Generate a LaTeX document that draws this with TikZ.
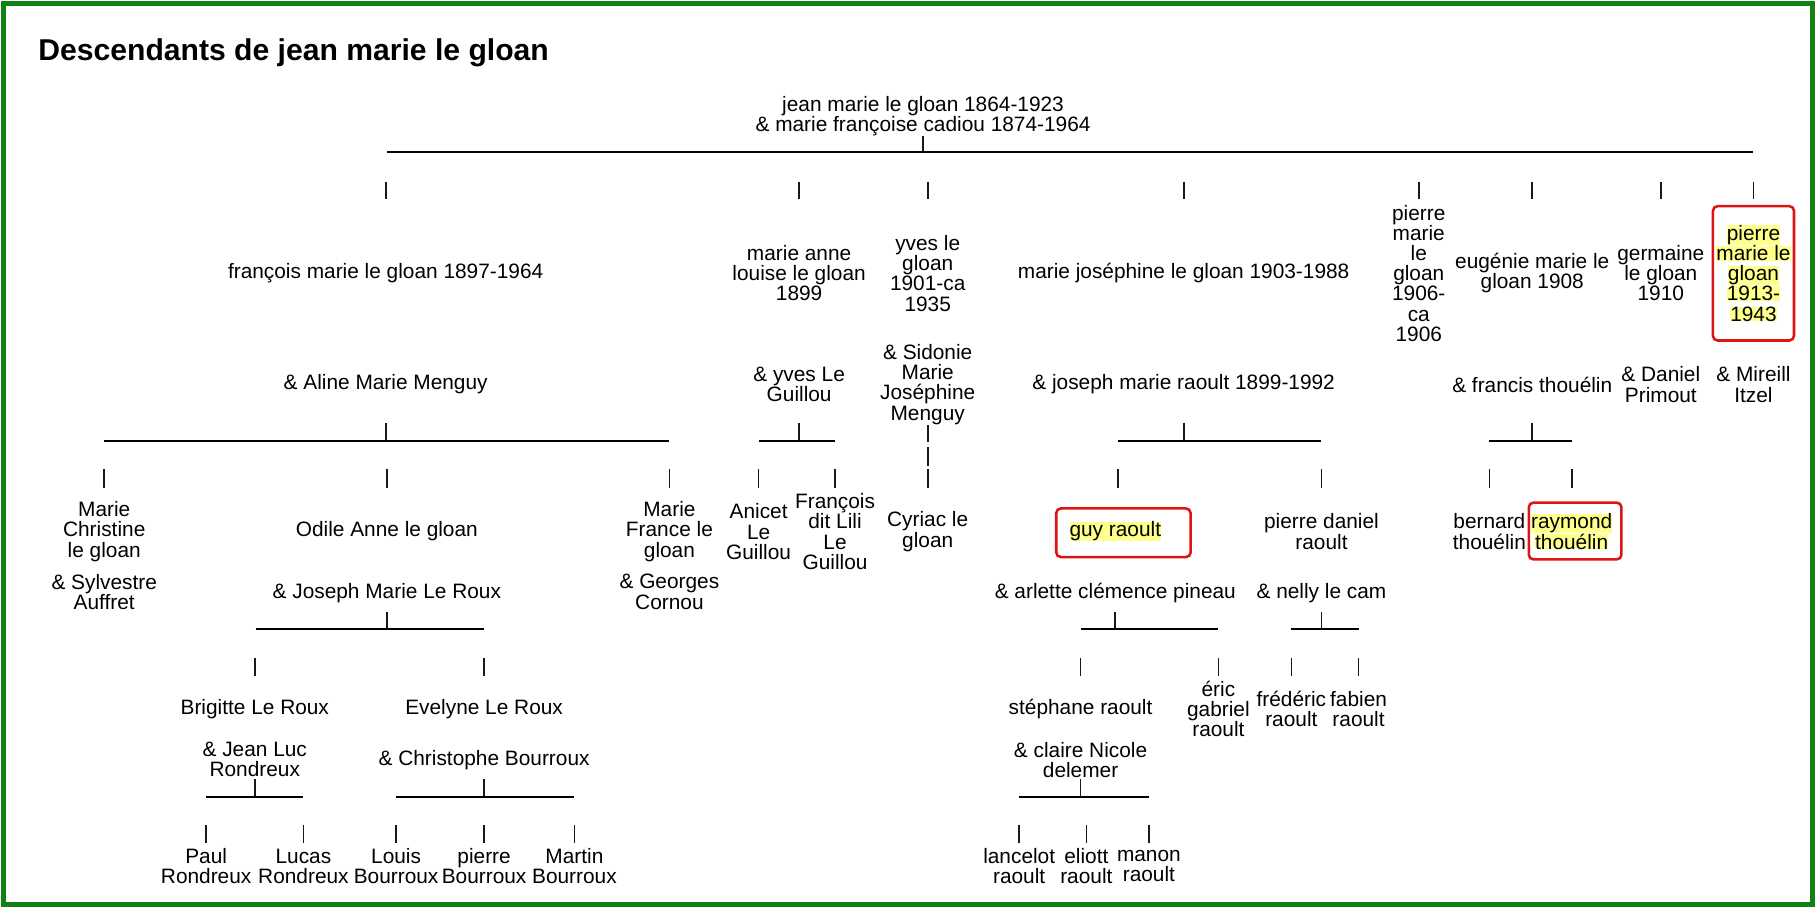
\documentclass[tikz,border=0pt]{standalone}
\usepackage{fontspec}
\setmainfont{Liberation Sans}
\definecolor{framegreen}{RGB}{18,128,18}
\definecolor{boxred}{RGB}{222,20,20}
\definecolor{hly}{RGB}{255,255,140}
\newcommand\fs{\fontsize{18}{17.4}\selectfont}
\newcommand\hlt[1]{{\setlength{\fboxsep}{0pt}\colorbox{hly}{#1}}}
\newcommand\tk[3]{\draw[tickline] (#1,#2) -- (#1,#3);}
\tikzset{
  person/.style={font=\fs, align=center, inner sep=0pt, yshift=-2pt},
  titletext/.style={font=\fontsize{26}{30}\selectfont\bfseries, inner sep=0pt},
  barline/.style={line width=1.9pt, black},
  tickline/.style={line width=1.5pt, black!90},
  redbox/.style={draw=boxred, line width=2.2pt, rounded corners=4pt}
}
\begin{document}
\begin{tikzpicture}[x=1pt,y=-1pt]
\useasboundingbox (0,0) rectangle (1568,784);
\draw[framegreen, line width=4pt] (3,3) rectangle (1565,781);

\node[titletext, anchor=base west] (title) at (33,52) {Descendants de jean marie le gloan};

% root
\node[person] (root) at (797,98) {jean marie le gloan 1864-1923\\\& marie françoise cadiou 1874-1964};
\tk{797}{117}{131}
\draw[barline] (334,131) -- (1514,131);
\foreach \x in {333,690,801,1022,1225,1323,1434,1514} {\tk{\x}{157}{172}}

% children
\node[person] (c1) at (333,234) {françois marie le gloan 1897-1964};
\node[person] (s1) at (333,330) {\& Aline Marie Menguy};
\tk{333}{365}{381}
\draw[barline] (90,381) -- (578,381);

\node[person] (c2) at (690,234) {marie anne\\louise le gloan\\1899};
\node[person] (s2) at (690,330) {\& yves Le\\Guillou};
\tk{690}{365}{381}
\draw[barline] (655,381) -- (721,381);

\node[person] (c3) at (801,234) {yves le\\gloan\\1901-ca\\1935};
\node[person] (s3) at (801,330) {\& Sidonie\\Marie\\Joséphine\\Menguy};
\tk{801}{367}{382}
\tk{801}{386}{402}

\node[person] (c4) at (1022,234) {marie joséphine le gloan 1903-1988};
\node[person] (s4) at (1022,330) {\& joseph marie raoult 1899-1992};
\tk{1022}{365}{381}
\draw[barline] (965,381) -- (1141,381);

\node[person] (c5) at (1225,234) {pierre\\marie\\le\\gloan\\1906-\\ca\\1906};

\node[person] (c6) at (1323,234) {eugénie marie le\\gloan 1908};
\node[person] (s6) at (1323,330) {\& francis thouélin};
\tk{1323}{365}{381}
\draw[barline] (1286,381) -- (1357,381);

\node[person] (c7) at (1434,234) {germaine\\le gloan\\1910};
\node[person] (s7) at (1434,330) {\& Daniel\\Primout};

\node[person] (c8) at (1514,234) {\hlt{pierre}\\\hlt{marie le}\\\hlt{gloan}\\\hlt{1913-}\\\hlt{1943}};
\draw[redbox] (1479,178) rectangle (1549,294);
\node[person] (s8) at (1514,330) {\& Mireill\\Itzel};

% grandchildren
\foreach \x in {90,334,578,655,721,801,965,1141,1286,1357} {\tk{\x}{405}{421}}

\node[person] (g1) at (90,457) {Marie\\Christine\\le gloan};
\node[person] (g1s) at (90,509) {\& Sylvestre\\Auffret};

\node[person] (g2) at (334,457) {Odile Anne le gloan};
\node[person] (g2s) at (334,510) {\& Joseph Marie Le Roux};
\tk{334}{528}{543}
\draw[barline] (221,543) -- (418,543);

\node[person] (g3) at (578,457) {Marie\\France le\\gloan};
\node[person] (g3s) at (578,509) {\& Georges\\Cornou};

\node[person] (g4) at (655,457) {Anicet\\Le\\Guillou};
\node[person] (g5) at (721,457) {François\\dit Lili\\Le\\Guillou};
\node[person] (g6) at (801,457) {Cyriac le\\gloan};

\node[person] (g7) at (963,457) {\hlt{guy raoult}};
\draw[redbox] (912,439) rectangle (1028,481);
\node[person] (g7s) at (963,510) {\& arlette clémence pineau};
\tk{963}{528}{543}
\draw[barline] (933,543) -- (1052,543);

\node[person] (g8) at (1141,457) {pierre daniel\\raoult};
\node[person] (g8s) at (1141,510) {\& nelly le cam};
\tk{1141}{528}{543}
\draw[barline] (1115,543) -- (1173,543);

\node[person] (g9) at (1286,457) {bernard\\thouélin};
\node[person] (g10) at (1357,457) {\hlt{raymond}\\\hlt{thouélin}};
\draw[redbox] (1320,434) rectangle (1400,483);

% great-grandchildren
\foreach \x in {220,418,933,1052,1115,1173} {\tk{\x}{568}{584}}

\node[person] (h1) at (220,610) {Brigitte Le Roux};
\node[person] (h1s) at (220,654) {\& Jean Luc\\Rondreux};
\tk{220}{673}{688}
\draw[barline] (178,688) -- (262,688);

\node[person] (h2) at (418,610) {Evelyne Le Roux};
\node[person] (h2s) at (418,654) {\& Christophe Bourroux};
\tk{418}{673}{688}
\draw[barline] (342,688) -- (496,688);

\node[person] (h3) at (933,610) {stéphane raoult};
\node[person] (h3s) at (933,654) {\& claire Nicole\\delemer};
\tk{933}{673}{688}
\draw[barline] (880,688) -- (992,688);

\node[person] (h4) at (1052,610) {éric\\gabriel\\raoult};
\node[person] (h5) at (1115,610) {frédéric\\raoult};
\node[person] (h6) at (1173,610) {fabien\\raoult};

% great-great-grandchildren
\foreach \x in {178,262,342,418,496,880,938,992} {\tk{\x}{712}{728}}
\node[person] (k1) at (178,746) {Paul\\Rondreux};
\node[person] (k2) at (262,746) {Lucas\\Rondreux};
\node[person] (k3) at (342,746) {Louis\\Bourroux};
\node[person] (k4) at (418,746) {pierre\\Bourroux};
\node[person] (k5) at (496,746) {Martin\\Bourroux};
\node[person] (k6) at (880,746) {lancelot\\raoult};
\node[person] (k7) at (938,746) {eliott\\raoult};
\node[person] (k8) at (992,746) {manon\\raoult};
\end{tikzpicture}
\end{document}
